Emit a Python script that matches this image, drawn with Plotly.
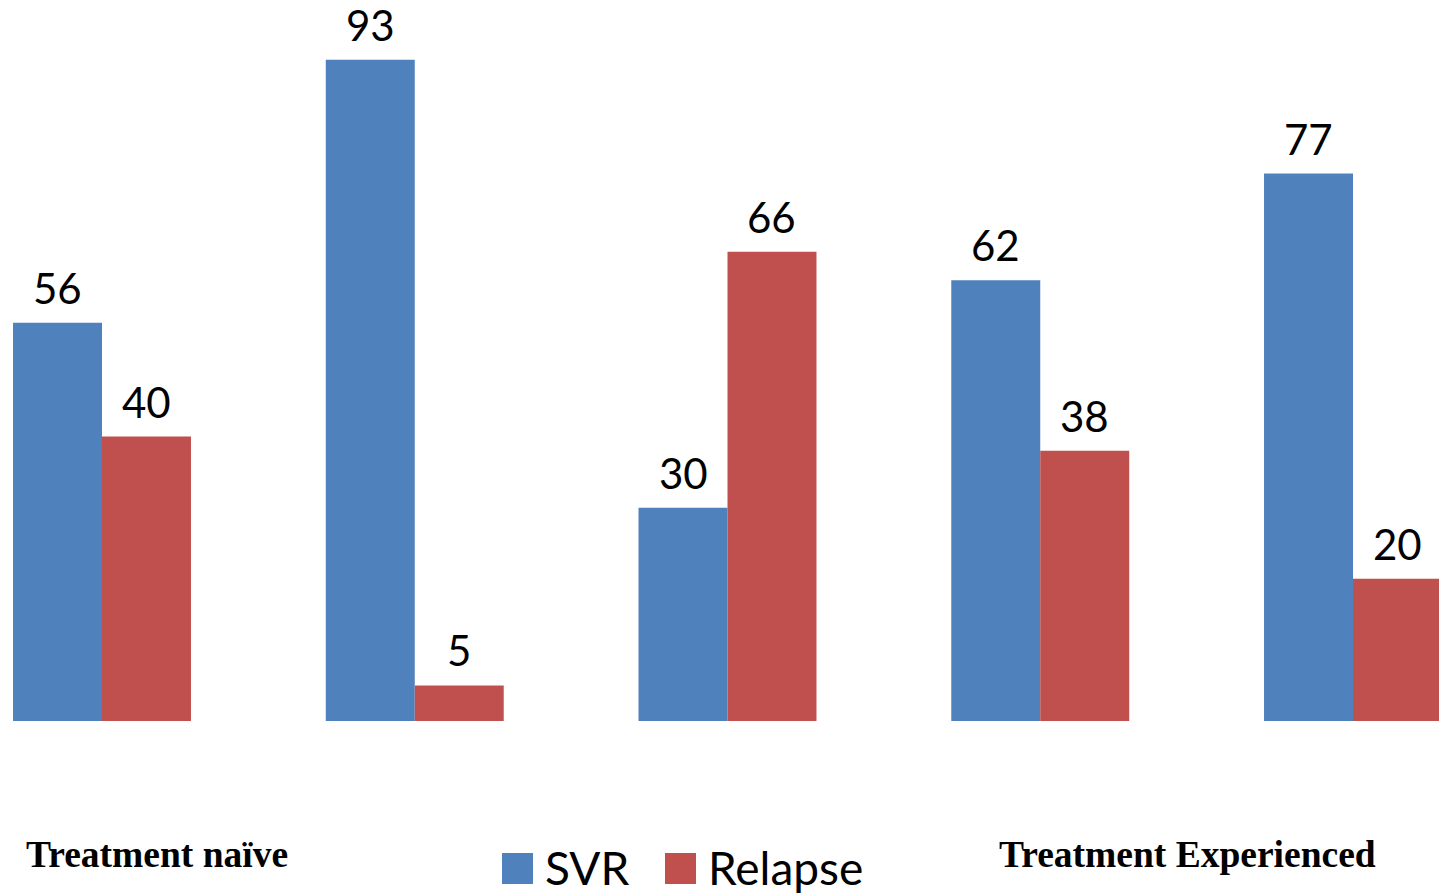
import plotly.graph_objects as go

groups = ["G1", "G2", "G3", "G4", "G5"]
svr = [56, 93, 30, 62, 77]
relapse = [40, 5, 66, 38, 20]
series_names = ["SVR", "Relapse"]
series_colors = ["#4F81BD", "#C0504D"]
bottom_labels = ["Treatment naïve", "Treatment Experienced"]

W, H = 1439, 894
TOP, BOTTOM = 10, 721          # plot area pixel rows
PH = BOTTOM - TOP

def py(p):                     # pixel row -> paper y
    return (BOTTOM - p) / PH

def px(p):                     # pixel col -> paper x
    return p / W

label_font = dict(family="Lato, Open Sans, sans-serif", size=42, color="black")
legend_font = dict(family="Lato, Open Sans, sans-serif", size=46, color="black")

scale = 312.75                 # px per category
bargap = 0.431
bar_px = scale * (1 - bargap) / 2

fig = go.Figure()
all_vals = [svr, relapse]
for i, (name, vals, col) in enumerate(zip(series_names, all_vals, series_colors)):
    fig.add_trace(go.Bar(
        x=groups, y=vals, name=name, marker=dict(color=col, line=dict(width=0)),
        showlegend=False, hoverinfo="y+name",
    ))
    shift = (i - 0.5) * bar_px
    for g, v in zip(groups, vals):
        fig.add_annotation(x=g, y=v, xref="x", yref="y", text=str(v),
                           showarrow=False, xanchor="center", yanchor="bottom",
                           xshift=shift, yshift=8, font=label_font)

# manual legend (large squares like the original)
legend_sq = [(502, 533), (665, 696)]
legend_txt_x = [543, 706]
for (x0, x1), tx, name, col in zip(legend_sq, legend_txt_x, series_names, series_colors):
    fig.add_shape(type="rect", xref="paper", yref="paper",
                  x0=px(x0), x1=px(x1), y0=py(884), y1=py(853),
                  fillcolor=col, line=dict(width=0))
    fig.add_annotation(xref="paper", yref="paper", x=px(tx), y=py(867),
                       xanchor="left", yanchor="middle", showarrow=False,
                       text=name, font=legend_font)

# bottom group captions
for txt, cx in zip(bottom_labels, [156.5, 1187.5]):
    fig.add_annotation(xref="paper", yref="paper", x=px(cx), y=py(854),
                       xanchor="center", yanchor="middle", showarrow=False,
                       text="<b>" + txt + "</b>",
                       font=dict(family="Liberation Serif, Times New Roman, serif",
                                 size=37.5, color="black"))

fig.update_layout(
    width=W, height=H,
    margin=dict(l=0, r=0, t=TOP, b=H - BOTTOM, pad=0),
    paper_bgcolor="white", plot_bgcolor="white",
    barmode="group", bargap=bargap, bargroupgap=0,
    xaxis=dict(range=[-102 / scale, (W - 102) / scale], showticklabels=False,
               showgrid=False, zeroline=False, showline=False, ticks=""),
    yaxis=dict(range=[0, 100], showticklabels=False, showgrid=False,
               zeroline=False, showline=False, ticks=""),
)

fig.write_html("out.html", config={"displayModeBar": False},
               post_script="document.body.style.margin='0';"
                           "document.body.style.overflow='hidden';")
